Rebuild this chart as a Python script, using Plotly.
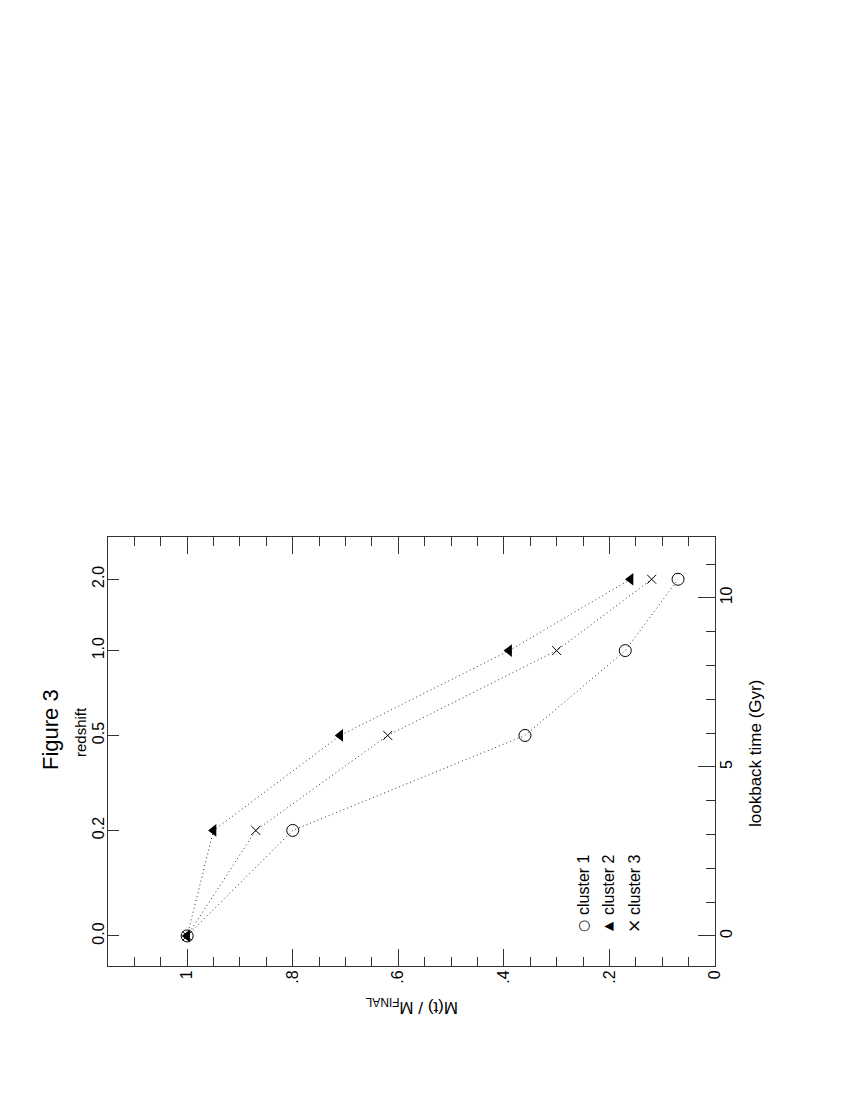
import plotly.graph_objects as go

# ---- data ----
redshift_labels = ["0.0", "0.2", "0.5", "1.0", "2.0"]
lookback_at_z = [0.0, 3.12, 5.93, 8.44, 10.55]   # Gyr, position of each redshift
cluster1 = [1.0, 0.80, 0.36, 0.17, 0.07]
cluster2 = [1.0, 0.95, 0.71, 0.39, 0.16]
cluster3 = [1.0, 0.87, 0.62, 0.30, 0.12]
mass_ticks = [1.0, 0.8, 0.6, 0.4, 0.2, 0.0]
mass_ticktext = ["1", ".8", ".6", ".4", ".2", "0"]
time_ticks = [0, 5, 10]
legend_names = ["cluster 1", "cluster 2", "cluster 3"]

FONT = "Liberation Sans, Arial, Helvetica, sans-serif"
W, H = 858, 1110
L, R, T, B = 100, 151, 529, 152
PW, PH = W - L - R, H - T - B


def px(x):
    return (x - L) / PW


def py(y):
    return (H - B - y) / PH


fig = go.Figure()

line_style = dict(color="#333333", width=1, dash="1px,3px")
fig.add_trace(go.Scatter(x=cluster1, y=lookback_at_z, mode="lines+markers",
                         line=line_style,
                         marker=dict(symbol="circle-open", size=12, color="black",
                                     line=dict(width=1, color="black")),
                         name=legend_names[0], showlegend=False))
fig.add_trace(go.Scatter(x=cluster2, y=lookback_at_z, mode="lines+markers",
                         line=line_style,
                         marker=dict(symbol="triangle-left", size=11, color="black",
                                     line=dict(width=0)),
                         name=legend_names[1], showlegend=False))
fig.add_trace(go.Scatter(x=cluster3, y=lookback_at_z, mode="lines+markers",
                         line=line_style,
                         marker=dict(symbol="x-thin-open", size=9, color="black",
                                     line=dict(width=1, color="black")),
                         name=legend_names[2], showlegend=False))
# invisible trace to activate the left (redshift) axis
fig.add_trace(go.Scatter(x=[cluster1[0]], y=[lookback_at_z[0]], yaxis="y2",
                         mode="markers", marker=dict(opacity=0),
                         showlegend=False, hoverinfo="skip"))

tickfont = dict(family=FONT, size=16, color="black")

fig.update_layout(
    width=W, height=H,
    margin=dict(l=L, r=R, t=T, b=B, pad=0),
    paper_bgcolor="white", plot_bgcolor="white",
    showlegend=False,
    xaxis=dict(range=[1.15, 0.0], tickmode="array", tickvals=mass_ticks,
               ticktext=mass_ticktext, tickangle=-90, ticks="inside",
               ticklen=17, tickcolor="#333", tickwidth=1,
               minor=dict(dtick=0.05, ticks="inside", ticklen=9,
                          tickcolor="#333", tickwidth=1, showgrid=False),
               showline=True, linecolor="#333", linewidth=1, mirror="ticks",
               showgrid=False, zeroline=False, tickfont=tickfont,
               ticklabelstandoff=-3),
    yaxis=dict(range=[-0.89, 11.8], side="right", tickmode="array",
               tickvals=time_ticks, tickangle=-90, ticks="inside", ticklen=17,
               tickcolor="#333", tickwidth=1,
               minor=dict(dtick=1, ticks="inside", ticklen=9, tickcolor="#333",
                          tickwidth=1, showgrid=False),
               showline=True, linecolor="#333", linewidth=1,
               showgrid=False, zeroline=False, tickfont=tickfont,
               ticklabelstandoff=-3),
    yaxis2=dict(range=[-0.89, 11.8], overlaying="y", side="left",
                tickmode="array", tickvals=lookback_at_z,
                ticktext=redshift_labels, tickangle=-90, ticks="inside",
                ticklen=11, tickcolor="#333", tickwidth=1,
                showline=True, linecolor="#333", linewidth=1,
                showgrid=False, zeroline=False, tickfont=tickfont,
                ticklabelstandoff=-3),
)

ann = []
ann.append(dict(text="Figure 3", x=px(42), y=py(722), xref="paper", yref="paper",
                textangle=-90, showarrow=False, xanchor="center", yanchor="middle",
                font=dict(family=FONT, size=22, color="black")))
ann.append(dict(text="redshift", x=px(72), y=py(724), xref="paper", yref="paper",
                textangle=-90, showarrow=False, xanchor="center", yanchor="middle",
                font=dict(family=FONT, size=15, color="black")))
ann.append(dict(text="lookback time (Gyr)", x=px(747), y=py(746), xref="paper",
                yref="paper", textangle=-90, showarrow=False, xanchor="center",
                yanchor="middle", font=dict(family=FONT, size=17, color="black")))
ann.append(dict(text="M(t) / M<sub>FINAL</sub>", x=px(404), y=py(998), xref="paper",
                yref="paper", textangle=180, showarrow=False, xanchor="center",
                yanchor="middle", font=dict(family=FONT, size=17, color="black")))

# legend (rotated, drawn as text)
legend_symbols = ["○", "▲", "×"]
legend_sizes = [14, 12, 17]
legend_x = [575, 600, 626]
for sym, sz, name, lx in zip(legend_symbols, legend_sizes, legend_names, legend_x):
    ann.append(dict(text=sym, x=px(lx), y=py(918), xref="paper", yref="paper",
                    textangle=-90, showarrow=False, xanchor="center",
                    yanchor="middle",
                    font=dict(family="DejaVu Sans", size=sz, color="black")))
    ann.append(dict(text=name, x=px(lx), y=py(877), xref="paper", yref="paper",
                    textangle=-90, showarrow=False, xanchor="center",
                    yanchor="middle",
                    font=dict(family=FONT, size=16, color="black")))

fig.update_layout(annotations=ann)
fig.write_html("out.html")
